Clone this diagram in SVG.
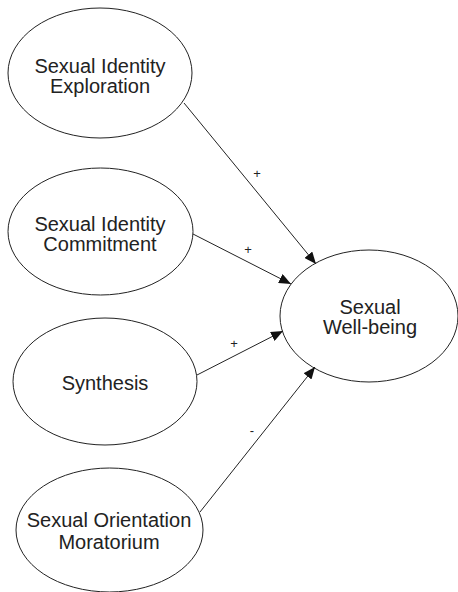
<svg xmlns="http://www.w3.org/2000/svg" width="458" height="592" viewBox="0 0 458 592">
<style>
.node ellipse{fill:#fff;stroke:#222;stroke-width:1}
.node text{font-family:"Liberation Sans",Arial,sans-serif;font-size:20px;fill:#222;text-anchor:middle}
.edge line{stroke:#222;stroke-width:1;marker-end:url(#arr)}
.lbl{font-family:"Liberation Sans",Arial,sans-serif;font-size:13px;fill:#222;text-anchor:middle}
</style>
<defs>
<marker id="arr" viewBox="0 0 12 10" refX="12" refY="5" markerWidth="12" markerHeight="10" markerUnits="userSpaceOnUse" orient="auto">
<path d="M0,0 L12,5 L0,10 Z" fill="#111"/>
</marker>
</defs>
<rect width="458" height="592" fill="#fff"/>
<g id="n1" class="node"><ellipse cx="100" cy="73" rx="92" ry="65"/><text x="100" y="73">Sexual Identity</text><text x="100" y="93">Exploration</text></g>
<g id="n2" class="node"><ellipse cx="100.5" cy="231.5" rx="92.5" ry="63.5"/><text x="100" y="231">Sexual Identity</text><text x="100" y="251">Commitment</text></g>
<g id="n3" class="node"><ellipse cx="105" cy="381.5" rx="92" ry="63.5"/><text x="105" y="390">Synthesis</text></g>
<g id="n4" class="node"><ellipse cx="109.5" cy="530" rx="93.5" ry="62"/><text x="109" y="527">Sexual Orientation</text><text x="109" y="549">Moratorium</text></g>
<g id="n5" class="node"><ellipse cx="369" cy="316" rx="89" ry="66"/><text x="370" y="314">Sexual</text><text x="370" y="334">Well-being</text></g>
<g id="edges" class="edge">
<line x1="184" y1="103" x2="316" y2="264"/>
<line x1="193" y1="234" x2="291" y2="284"/>
<line x1="197" y1="375" x2="283" y2="331"/>
<line x1="200" y1="512" x2="315" y2="367"/>
</g>
<g id="labels">
<text class="lbl" x="257" y="178">+</text>
<text class="lbl" x="248" y="254">+</text>
<text class="lbl" x="234" y="348">+</text>
<text class="lbl" x="252" y="435">-</text>
</g>
</svg>
